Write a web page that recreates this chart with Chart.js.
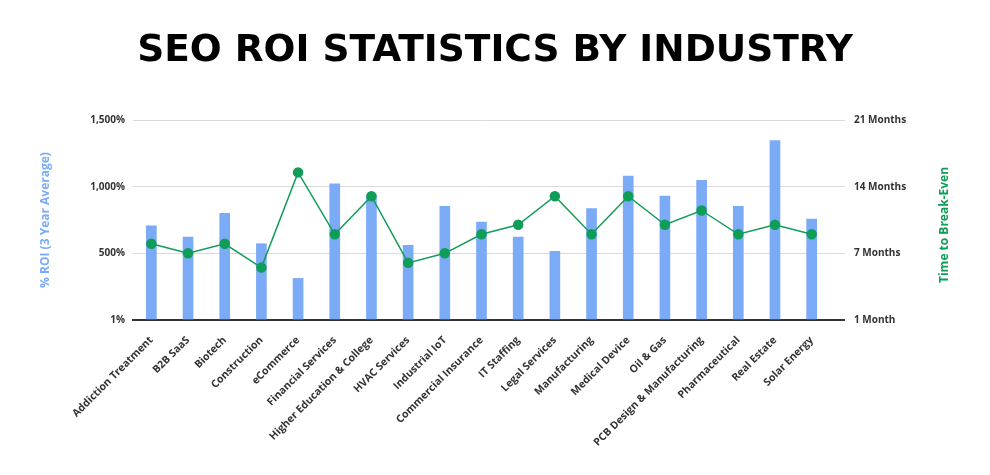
<!DOCTYPE html>
<html>
<head>
<meta charset="utf-8">
<script src="https://cdn.jsdelivr.net/npm/chart.js@4"></script>
<style>
  html, body { margin: 0; padding: 0; background: #fff; }
  #wrap { width: 990px; height: 475px; }
</style>
</head>
<body>
<div id="wrap"><canvas id="chart" width="990" height="475"></canvas></div>
<script>
const industries = [
  'Addiction Treatment', 'B2B SaaS', 'Biotech', 'Construction', 'eCommerce',
  'Financial Services', 'Higher Education & College', 'HVAC Services', 'Industrial IoT',
  'Commercial Insurance', 'IT Staffing', 'Legal Services', 'Manufacturing',
  'Medical Device', 'Oil & Gas', 'PCB Design & Manufacturing', 'Pharmaceutical',
  'Real Estate', 'Solar Energy'
];
const roiPercent = [707, 622, 800, 572, 312, 1022, 935, 560, 852, 735, 622, 515, 835, 1080, 930, 1047, 852, 1345, 757];
const breakEvenMonths = [8, 7, 8, 5.5, 15.5, 9, 13, 6, 7, 9, 10, 13, 9, 13, 10, 11.5, 9, 10, 9];
const roiTicks = [0, 500, 1000, 1500];
const monthTicks = [0, 7, 14, 21];

const BLUE = '#7baaf7';
const GREEN = '#0f9d58';
const FONT = '"Open Sans", sans-serif';

const gridColor = c => c.tick && c.tick.value === 0 ? '#333' : '#dadada';
const gridWidth = c => c.tick && c.tick.value === 0 ? 2 : 1;

// right axis title reads bottom-to-top in the original, chart.js turns it the other way
const rightTitle = {
  id: 'rightTitle',
  afterDraw(chart) {
    const s = chart.scales.months;
    const area = chart.chartArea;
    const ctx = chart.ctx;
    ctx.save();
    ctx.translate(s.right - 15, (area.top + area.bottom) / 2 + 5);
    ctx.rotate(-Math.PI / 2);
    ctx.fillStyle = GREEN;
    ctx.font = 'bold 12px ' + FONT;
    ctx.textAlign = 'center';
    ctx.textBaseline = 'middle';
    ctx.fillText('Time to Break-Even', 0, 0);
    ctx.restore();
  }
};

new Chart(document.getElementById('chart'), {
  data: {
    labels: industries,
    datasets: [
      {
        type: 'line',
        label: 'Time to Break-Even',
        data: breakEvenMonths,
        yAxisID: 'months',
        borderColor: GREEN,
        backgroundColor: GREEN,
        borderWidth: 1.5,
        pointRadius: 4.5,
        pointHoverRadius: 5,
        tension: 0,
        order: 0
      },
      {
        type: 'bar',
        label: '% ROI (3 Year Average)',
        data: roiPercent,
        yAxisID: 'roi',
        backgroundColor: BLUE,
        barThickness: 10,
        order: 1
      }
    ]
  },
  options: {
    responsive: false,
    animation: false,
    layout: { padding: { left: 30, right: 30, top: 0, bottom: 0 } },
    plugins: {
      legend: { display: false },
      tooltip: { enabled: false },
      title: {
        display: true,
        text: 'SEO ROI STATISTICS BY INDUSTRY',
        color: '#000',
        font: { family: '"DejaVu Sans", sans-serif', size: 37.5, weight: 'bold', lineHeight: 1.2 },
        padding: { top: 29, bottom: 46 }
      }
    },
    scales: {
      x: {
        grid: { display: false },
        border: { color: '#333', width: 2 },
        ticks: {
          autoSkip: false,
          maxRotation: 45,
          minRotation: 45,
          padding: 6,
          color: '#333',
          font: { family: FONT, size: 10.5, weight: 'bold' }
        },
        afterFit: s => { s.height = 155; }
      },
      roi: {
        position: 'left',
        min: 0,
        max: 1500,
        afterBuildTicks: s => { s.ticks = roiTicks.map(v => ({ value: v })); },
        afterFit: s => { s.width = 103; },
        border: { display: false },
        grid: { color: gridColor, lineWidth: gridWidth, drawTicks: false },
        ticks: {
          padding: 8,
          color: '#333',
          font: { family: FONT, size: 10, weight: 'bold' },
          callback: v => v === 0 ? '1%' : v.toLocaleString('en-US') + '%'
        },
        title: {
          display: true,
          text: '% ROI (3 Year Average)',
          color: BLUE,
          font: { family: FONT, size: 12, weight: 'bold', lineHeight: 1.2 },
          padding: { top: 8, bottom: 0 }
        }
      },
      months: {
        position: 'right',
        min: 0,
        max: 21,
        afterBuildTicks: s => { s.ticks = monthTicks.map(v => ({ value: v })); },
        afterFit: s => { s.width = 130; },
        border: { display: false },
        grid: { drawOnChartArea: false, drawTicks: true, tickLength: 15, color: gridColor, lineWidth: gridWidth },
        ticks: {
          padding: 9,
          color: '#333',
          font: { family: FONT, size: 10, weight: 'bold' },
          callback: v => v === 0 ? '1 Month' : v + ' Months'
        },
        title: { display: false }
      }
    }
  },
  plugins: [rightTitle]
});
</script>
</body>
</html>
